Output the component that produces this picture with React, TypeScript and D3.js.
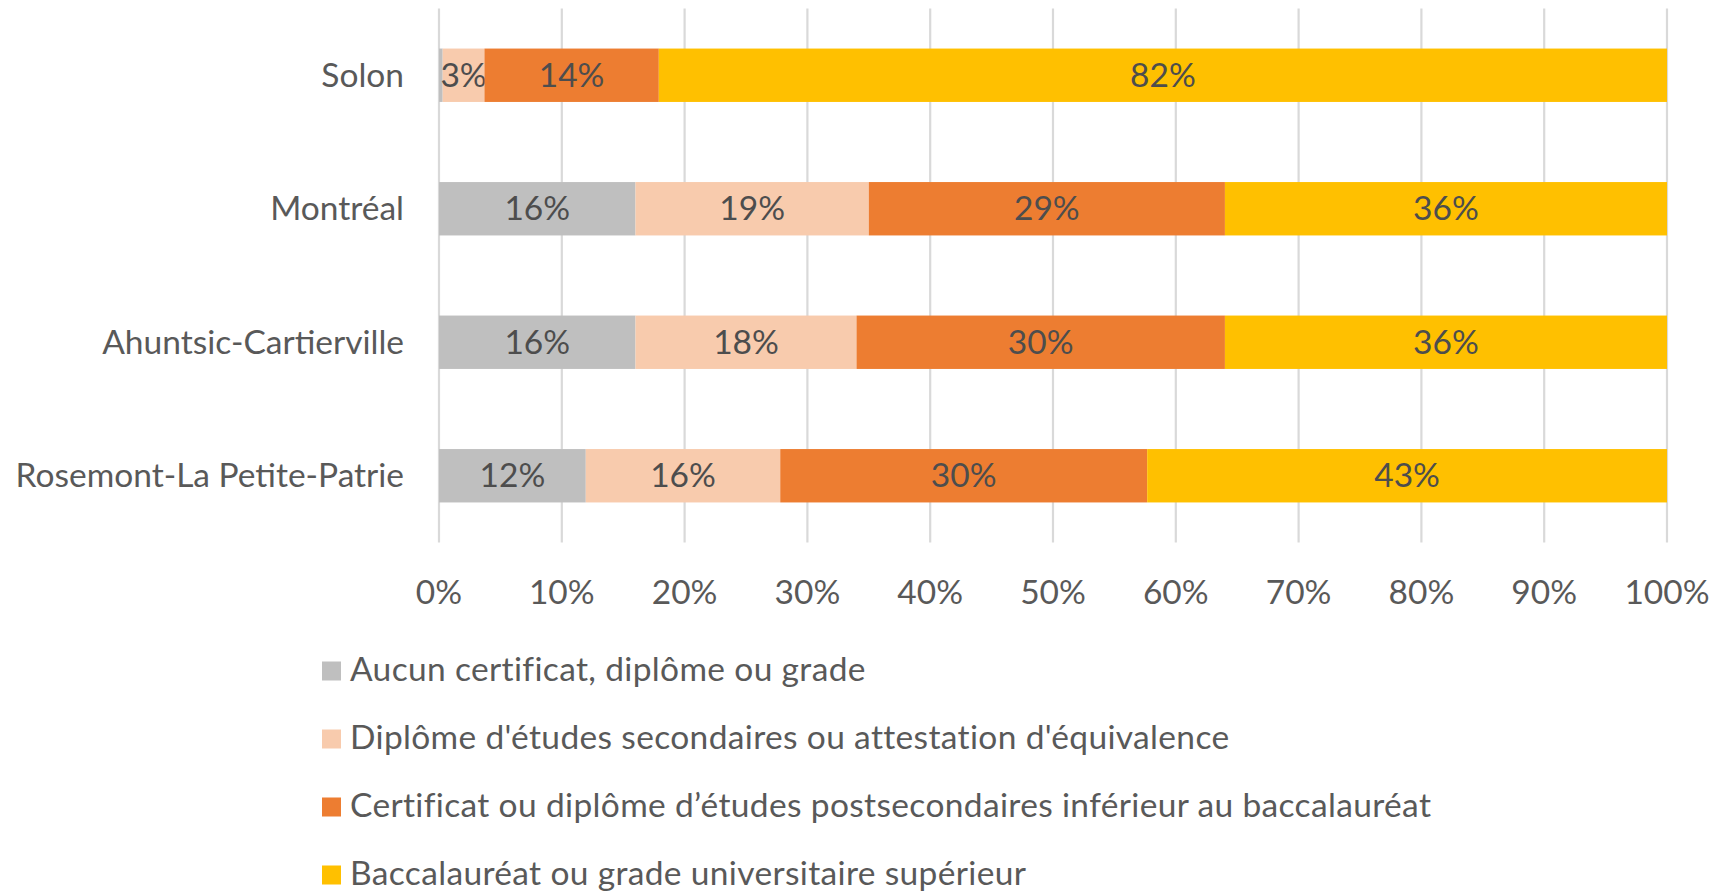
import React from 'react';
import * as d3 from 'd3';

const categories = ['Solon', 'Montréal', 'Ahuntsic-Cartierville', 'Rosemont-La Petite-Patrie'];
const seriesNames = [
  'Aucun certificat, diplôme ou grade',
  "Diplôme d'études secondaires ou attestation d'équivalence",
  'Certificat ou diplôme d’études postsecondaires inférieur au baccalauréat',
  'Baccalauréat ou grade universitaire supérieur',
];
const aucun = [0.3, 16, 16, 12.0];
const secondaire = [3.4, 19, 18, 15.9];
const postsec = [14.2, 29, 30, 30.0];
const bacc = [82.1, 36, 36, 42.5];
const xTicks = [0, 0.1, 0.2, 0.3, 0.4, 0.5, 0.6, 0.7, 0.8, 0.9, 1];
const colors = ['#BFBFBF', '#F8CBAD', '#ED7D31', '#FFC000'];

const W = 1711;
const H = 892;
const FONT = 'Lato, "Open Sans", sans-serif';
const FS = 33.5;

export default function App() {
  const keys = ['a', 'b', 'c', 'd'];
  const rows = categories.map((c, i) => ({
    cat: c,
    a: aucun[i],
    b: secondaire[i],
    c: postsec[i],
    d: bacc[i],
  }));
  const stack = d3.stack<any>().keys(keys).offset(d3.stackOffsetExpand);
  const layers = stack(rows);

  const x = d3.scaleLinear().domain([0, 1]).range([439, 1667]);
  const y = d3.scaleBand<string>().domain(categories).range([8.5, 542.5]).paddingInner(0.6).paddingOuter(0.3);
  const fmt = (v: number) => `${Math.round(v)}%`;

  const legendY = d3.scaleBand<string>().domain(seriesNames).range([637, 909]);

  return (
    <svg
      width={W}
      height={H}
      style={{ position: 'absolute', left: 0, top: 0, background: '#fff' }}
      fontFamily={FONT}
    >
      {/* gridlines */}
      {xTicks.map((t) => (
        <line key={t} x1={x(t)} x2={x(t)} y1={8.5} y2={542.5} stroke="#D9D9D9" strokeWidth={2.2} />
      ))}
      {/* bars */}
      {layers.map((layer, li) => (
        <g key={layer.key}>
          {layer.map((seg, i) => {
            const x0 = x(seg[0]);
            const x1 = x(seg[1]);
            const raw = (rows[i] as any)[layer.key] as number;
            const cy = (y(rows[i].cat) as number) + y.bandwidth() / 2;
            return (
              <g key={i}>
                <rect x={x0} y={y(rows[i].cat)} width={Math.max(0, x1 - x0)} height={y.bandwidth()} fill={colors[li]} />
                {raw >= 1 && (
                  <text
                    x={(x0 + x1) / 2}
                    y={cy}
                    dy="0.35em"
                    textAnchor="middle"
                    fontSize={FS}
                    fill="#4D4D4D"
                  >
                    {fmt(raw)}
                  </text>
                )}
              </g>
            );
          })}
        </g>
      ))}
      {/* y labels */}
      {categories.map((c) => (
        <text
          key={c}
          x={404}
          y={(y(c) as number) + y.bandwidth() / 2}
          dy="0.35em"
          textAnchor="end"
          fontSize={FS}
          fill="#595959"
        >
          {c}
        </text>
      ))}
      {/* x tick labels */}
      {xTicks.map((t) => (
        <text key={t} x={x(t)} y={592} dy="0.35em" textAnchor="middle" fontSize={FS} fill="#595959">
          {d3.format('.0%')(t)}
        </text>
      ))}
      {/* legend */}
      {seriesNames.map((s, i) => {
        const cy = (legendY(s) as number) + legendY.bandwidth() / 2;
        return (
          <g key={s}>
            <rect x={322} y={cy - 9.5} width={19} height={19} fill={colors[i]} />
            <text x={350} y={cy} dy="0.3em" fontSize={FS} letterSpacing={0.35} fill="#595959">
              {s}
            </text>
          </g>
        );
      })}
    </svg>
  );
}
